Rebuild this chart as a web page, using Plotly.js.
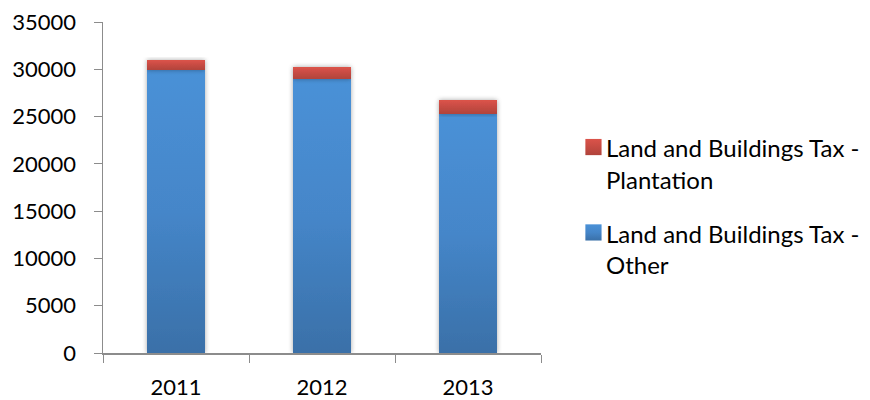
<!DOCTYPE html>
<html>
<head>
<meta charset="utf-8">
<script src="https://cdn.plot.ly/plotly-3.0.1.min.js"></script>
<style>html,body{margin:0;padding:0;background:#fff;}#chart{width:870px;height:400px;}</style>
</head>
<body>
<div id="chart"></div>
<script>
const years = ['2011', '2012', '2013'];
const otherValues = [29900, 28950, 25250];
const plantationValues = [1060, 1270, 1470];
const seriesNames = ['Land and Buildings Tax -<br>Other', 'Land and Buildings Tax -<br>Plantation'];
const yTicks = [0, 5000, 10000, 15000, 20000, 25000, 30000, 35000];

const traces = [
  {type: 'bar', name: seriesNames[0], legendgroup: 'a', legendrank: 2, x: years, y: otherValues,
   marker: {color: '#4384c8', line: {width: 0}}},
  {type: 'bar', name: seriesNames[1], legendgroup: 'b', legendrank: 1, x: years, y: plantationValues,
   marker: {color: '#c94a41', line: {width: 0}}}
];

const layout = {
  width: 870, height: 400,
  margin: {l: 103, r: 329, t: 22, b: 47, autoexpand: false},
  barmode: 'stack', bargap: 0.6,
  paper_bgcolor: '#fff', plot_bgcolor: '#fff',
  font: {family: 'Lato, Carlito, sans-serif', size: 22, color: '#000'},
  showlegend: true,
  legend: {traceorder: 'grouped', x: 1.057, xanchor: 'left', y: 0.686, yanchor: 'top',
           valign: 'top', font: {size: 24}, tracegroupgap: 20, itemwidth: 30},
  xaxis: {type: 'category', showline: true, linecolor: '#8c8c8c', linewidth: 1.5,
          ticks: 'outside', tickson: 'boundaries', ticklen: 8, tickcolor: '#8c8c8c',
          showgrid: false, zeroline: false, tickfont: {size: 22}, ticklabelstandoff: 14},
  yaxis: {range: [0, 35000], tickvals: yTicks, ticktext: yTicks.map(String), showline: true, linecolor: '#8c8c8c',
          linewidth: 1.5, ticks: 'outside', ticklen: 8, tickcolor: '#8c8c8c',
          showgrid: false, zeroline: false, tickfont: {size: 22}, ticklabelstandoff: 13}
};

Plotly.newPlot('chart', traces, layout, {displayModeBar: false, staticPlot: true}).then(function(gd){
  const svg = gd.querySelector('svg.main-svg');
  const ns = 'http://www.w3.org/2000/svg';
  let defs = svg.querySelector('defs');
  if (!defs) { defs = document.createElementNS(ns, 'defs'); svg.insertBefore(defs, svg.firstChild); }
  function grad(id, stops) {
    const g = document.createElementNS(ns, 'linearGradient');
    g.setAttribute('id', id); g.setAttribute('x1', '0'); g.setAttribute('y1', '0');
    g.setAttribute('x2', '0'); g.setAttribute('y2', '1');
    stops.forEach(function(s){
      const st = document.createElementNS(ns, 'stop');
      st.setAttribute('offset', s[0]); st.setAttribute('stop-color', s[1]);
      g.appendChild(st);
    });
    defs.appendChild(g);
  }
  grad('gBlue', [['0', '#4a91d7'], ['0.5', '#4586c9'], ['1', '#3a70a8']]);
  grad('gRed', [['0', '#db534a'], ['1', '#b0433b']]);
  const f = document.createElementNS(ns, 'filter');
  f.setAttribute('id', 'shadow'); f.setAttribute('x', '-20%'); f.setAttribute('y', '-5%');
  f.setAttribute('width', '140%'); f.setAttribute('height', '110%');
  f.innerHTML = '<feGaussianBlur in="SourceAlpha" stdDeviation="2.5"/><feOffset dx="0" dy="0" result="b"/>' +
    '<feComponentTransfer><feFuncA type="linear" slope="0.35"/></feComponentTransfer>' +
    '<feMerge><feMergeNode/><feMergeNode in="SourceGraphic"/></feMerge>';
  defs.appendChild(f);
  const ids = ['gBlue', 'gRed'];
  gd.querySelectorAll('.barlayer .trace.bars').forEach(function(t, i){
    t.setAttribute('filter', 'url(#shadow)');
    t.querySelectorAll('path').forEach(function(p){ p.style.fill = 'url(#' + ids[i] + ')'; });
  });
  gd.querySelectorAll('.legend .traces').forEach(function(t){
    const d = t.__data__;
    const idx = d && d[0] && d[0].trace ? d[0].trace.index : null;
    if (idx === null) return;
    t.querySelectorAll('.legendpoints path').forEach(function(p){
      p.style.fill = 'url(#' + ids[idx] + ')';
      const tr = p.getAttribute('transform') || '';
      p.setAttribute('transform', tr + ' translate(7.5,-1) scale(1.35)');
    });
  });
});
</script>
</body>
</html>
